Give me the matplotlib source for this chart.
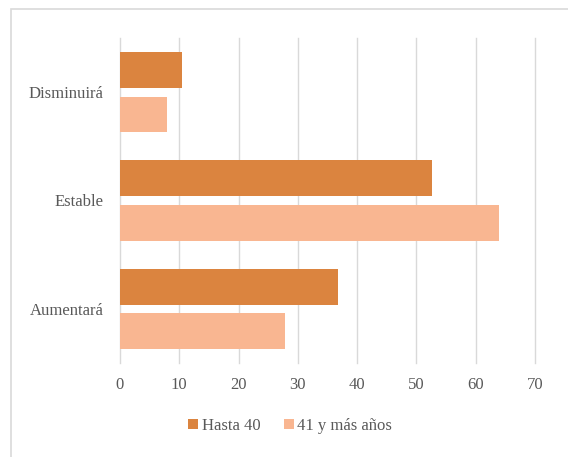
import matplotlib
matplotlib.use("Agg")
import matplotlib.pyplot as plt
import numpy as np
from matplotlib.patches import Rectangle

categories = ["Aumentará", "Estable", "Disminuirá"]
hasta_40 = [36.8, 52.6, 10.4]
mas_41 = [27.9, 63.9, 8.0]
series_names = ["Hasta 40", "41 y más años"]

C_DARK = "#DB843F"
C_LIGHT = "#F9B691"
C_GRID = "#D9D9D9"
C_TEXT = "#595959"
FONT = "Liberation Serif"

W, H = 568, 457
fig = plt.figure(figsize=(W / 100, H / 100), dpi=100)
fig.patches.append(Rectangle((11 / W, -0.1), 1.2, 1 - 9 / H + 0.1, transform=fig.transFigure,
                             fill=False, edgecolor="#D9D9D9", lw=1.2))

ax = fig.add_axes([120 / W, 1 - 363 / H, (535 - 120) / W, (363 - 38) / H])
y = np.arange(len(categories))
h = 0.33
ax.barh(y + 0.205, hasta_40, height=h, color=C_DARK, label=series_names[0], zorder=2)
ax.barh(y - 0.205, mas_41, height=h, color=C_LIGHT, label=series_names[1], zorder=2)

ax.set_xlim(0, 70)
ax.set_ylim(-0.5, 2.5)
ax.set_xticks(range(0, 71, 10))
ax.set_yticks(y)
ax.set_yticklabels(categories)
ax.grid(axis="x", color=C_GRID, lw=1.0, zorder=0)
for gl in ax.get_xgridlines():
    gl.set_clip_on(False)
for s in ax.spines.values():
    s.set_visible(False)
ax.tick_params(length=0, colors=C_TEXT, labelsize=12)
ax.tick_params(axis="x", pad=10)
ax.tick_params(axis="y", pad=12)
for lab in ax.get_xticklabels() + ax.get_yticklabels():
    lab.set_family(FONT)
    lab.set_color(C_TEXT)

leg = fig.legend(loc="center", bbox_to_anchor=(290 / W, 1 - 426 / H), ncol=2, frameon=False,
                 handlelength=0.6, handleheight=0.6, handletextpad=0.2, columnspacing=1.4,
                 prop={"family": FONT, "size": 12})
for t in leg.get_texts():
    t.set_color(C_TEXT)

fig.savefig("out.png", dpi=100)
